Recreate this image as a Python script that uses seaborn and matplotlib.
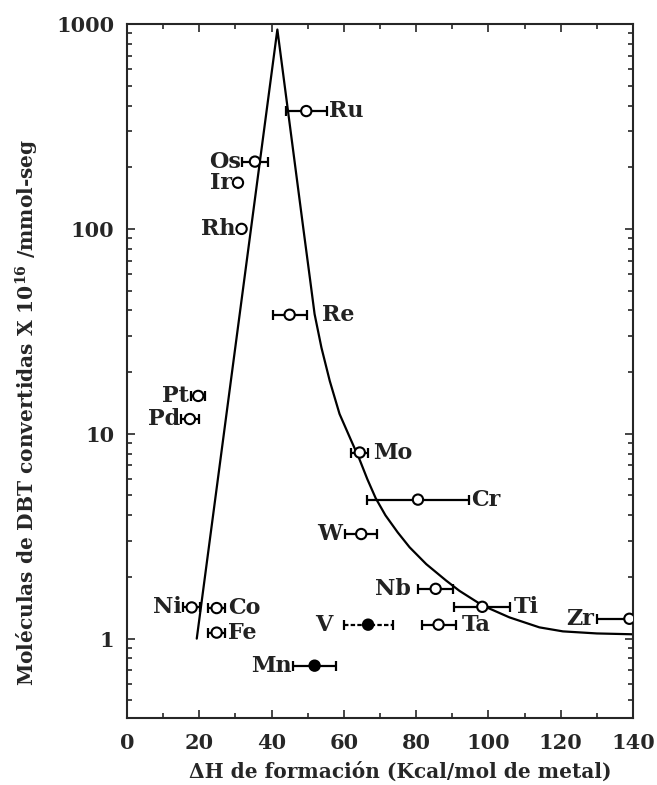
import numpy as np
import pandas as pd
import matplotlib
matplotlib.use('Agg')
import matplotlib.pyplot as plt
import matplotlib.ticker as mticker
import seaborn as sns

# Metals: enthalpy of sulfide formation vs HDS activity (volcano plot)
metals = ['Ru', 'Os', 'Ir', 'Rh', 'Re', 'Pt', 'Pd', 'Mo', 'Cr', 'W',
          'Nb', 'Ti', 'Ta', 'Zr', 'V', 'Mn', 'Ni', 'Co', 'Fe']
delta_h = [49.6, 35.4, 30.7, 31.7, 45.0, 19.7, 17.4, 64.4, 80.5, 64.8,
           85.4, 98.3, 86.2, 139.0, 66.7, 51.9, 17.9, 24.8, 24.8]
activity = [376, 213, 168, 100, 38.1, 15.3, 11.8, 8.1, 4.77, 3.24,
            1.75, 1.43, 1.17, 1.25, 1.17, 0.738, 1.42, 1.41, 1.07]
dh_err = [5.7, 3.7, 0, 0, 4.7, 2.0, 2.5, 2.3, 14.2, 4.5,
          4.9, 7.7, 4.7, 9.0, 6.8, 6.0, 2.3, 2.3, 2.3]
filled = ['V', 'Mn']

# volcano curve
curve_x = [19.3, 41.6, 48.8, 50.7, 51.9, 53.8, 56.1, 58.8, 62.1, 64.2, 66.5,
           68.8, 71.5, 74.9, 78.2, 82.8, 88.3, 92.0, 98.4, 105.8, 114.1,
           120.6, 130.0, 140.0]
curve_y = [1.0, 940, 100, 55.8, 38.4, 26.3, 18.1, 12.5, 9.2, 7.6, 6.0,
           4.85, 4.0, 3.3, 2.79, 2.31, 1.92, 1.71, 1.45, 1.27, 1.135,
           1.085, 1.06, 1.05]

x_ticks = [0, 20, 40, 60, 80, 100, 120, 140]
y_ticks = [1, 10, 100, 1000]
y_ticklabels = ['1', '10', '100', '1000']

# label side (L/R) and gap in pixels from error bar end
label_side = {'Ru': ('R', 2), 'Os': ('L', 1), 'Ir': ('L', 6), 'Rh': ('L', 6),
              'Re': ('R', 15), 'Pt': ('L', 2), 'Pd': ('L', 1), 'Mo': ('R', 5),
              'Cr': ('R', 2), 'W': ('L', 3), 'Nb': ('L', 7), 'Ti': ('R', 4),
              'Ta': ('R', 6), 'Zr': ('L', 3), 'V': ('L', 11), 'Mn': ('L', 1),
              'Ni': ('L', 2), 'Co': ('R', 3), 'Fe': ('R', 3)}

df = pd.DataFrame({'metal': metals, 'dh': delta_h, 'act': activity, 'err': dh_err})
df['filled'] = df['metal'].isin(filled)

sns.set_style('ticks')
plt.rcParams['font.family'] = ['DejaVu Serif']
plt.rcParams['font.weight'] = 'bold'
plt.rcParams['mathtext.fontset'] = 'dejavuserif'
plt.rcParams['mathtext.default'] = 'bf'

fig = plt.figure(figsize=(6.57, 7.85), dpi=100)
ax = fig.add_axes([0.1933, 0.0854, 0.7702, 0.8840])
ax.set_yscale('log')

sns.lineplot(x=curve_x, y=curve_y, sort=False, estimator=None, color='black',
             linewidth=1.6, ax=ax)

# horizontal error bars
for _, r in df[df['err'] > 0].iterrows():
    eb = ax.errorbar(r['dh'], r['act'], xerr=r['err'], fmt='none', ecolor='black',
                     elinewidth=1.6, capsize=3.6, capthick=1.6, zorder=2)
    if r['metal'] == 'V':
        eb[2][0].set_linestyle((0, (2, 1)))

sns.scatterplot(data=df, x='dh', y='act', hue='filled',
                palette={False: 'white', True: 'black'}, edgecolor='black',
                linewidth=1.5, s=55, legend=False, zorder=3, ax=ax)

# metal labels
px = 72 / fig.dpi
for _, r in df.iterrows():
    side, gap = label_side[r['metal']]
    if side == 'R':
        ax.annotate(r['metal'], (r['dh'] + r['err'], r['act']),
                    xytext=((gap + (5 if r['err'] == 0 else 0)) * px, 0),
                    textcoords='offset points', ha='left', va='center',
                    fontsize=16, fontweight='bold', color='#222222')
    else:
        ax.annotate(r['metal'], (r['dh'] - r['err'], r['act']),
                    xytext=(-gap * px, 0), textcoords='offset points',
                    ha='right', va='center', fontsize=16, fontweight='bold',
                    color='#222222')

ax.set_xlim(0, 140)
ax.set_ylim(0.41, 1000)
ax.set_xticks(x_ticks)
ax.set_xticklabels([str(t) for t in x_ticks])
ax.xaxis.set_minor_locator(mticker.MultipleLocator(10))
ax.set_yticks(y_ticks)
ax.set_yticklabels(y_ticklabels)
ax.yaxis.set_minor_locator(mticker.LogLocator(base=10, subs=np.arange(2, 10)))
ax.yaxis.set_minor_formatter(mticker.NullFormatter())

ax.tick_params(which='both', direction='in', top=True, right=True, width=1.2)
ax.tick_params(which='major', length=6, labelsize=15)
ax.tick_params(axis='x', which='major', pad=11)
ax.tick_params(axis='y', which='major', pad=9)
ax.tick_params(which='minor', length=3.5)
for s in ax.spines.values():
    s.set_linewidth(1.5)
    s.set_visible(True)

ax.set_xlabel('ΔH de formación (Kcal/mol de metal)', fontsize=14.5, fontweight='bold')
ax.set_ylabel('Moléculas de DBT convertidas X 10$^{16}$ /mmol-seg', fontsize=14.5,
              fontweight='bold')
ax.xaxis.set_label_coords(0.54, -0.063)
ax.yaxis.set_label_coords(-0.17, 0.44)

fig.savefig('out.png', dpi=100)
